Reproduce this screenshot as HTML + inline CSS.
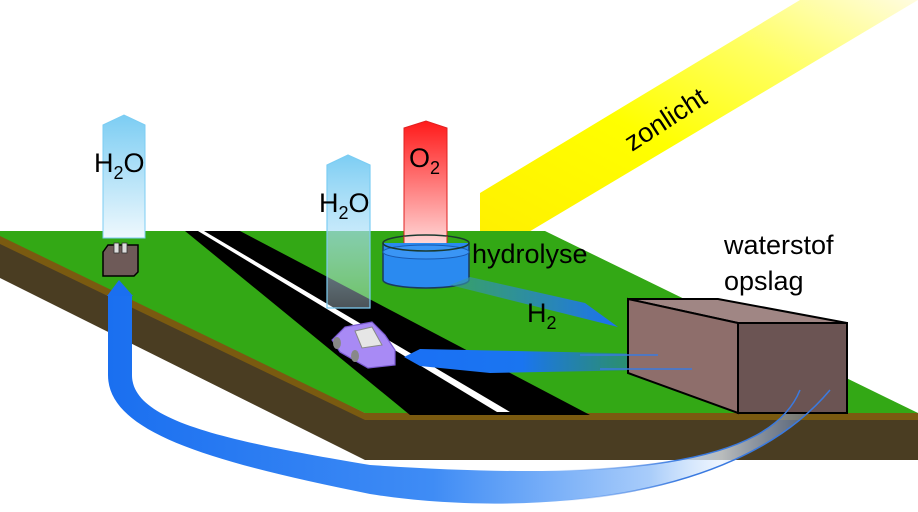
<!DOCTYPE html>
<html><head><meta charset="utf-8"><style>
html,body{margin:0;padding:0;background:#fff;}
svg{display:block;font-family:"Liberation Sans",sans-serif;}
</style></head><body>
<svg width="918" height="512" viewBox="0 0 918 512" xmlns="http://www.w3.org/2000/svg">
<defs>
<linearGradient id="sun" x1="1" y1="0" x2="0" y2="1">
<stop offset="0" stop-color="#fffce0"/><stop offset="0.3" stop-color="#ffff60"/><stop offset="0.6" stop-color="#ffff00"/><stop offset="1" stop-color="#fff000"/></linearGradient>
<linearGradient id="h2o" x1="0" y1="0" x2="0" y2="1">
<stop offset="0" stop-color="#7ccdf3"/><stop offset="1" stop-color="#eef8fd"/></linearGradient>
<linearGradient id="h2o2" x1="0" y1="0" x2="0" y2="1">
<stop offset="0" stop-color="#7ccdf3" stop-opacity="1"/><stop offset="1" stop-color="#d8f0fc" stop-opacity="0.35"/></linearGradient>
<linearGradient id="o2" x1="0" y1="0" x2="0" y2="1">
<stop offset="0" stop-color="#ff1a1a"/><stop offset="1" stop-color="#ffd8d8"/></linearGradient>
<linearGradient id="ub" x1="0" y1="0" x2="1" y2="0">
<stop offset="0" stop-color="#1a6ff0"/><stop offset="0.45" stop-color="#3f8cf5"/><stop offset="0.75" stop-color="#a8ccfa"/><stop offset="0.85" stop-color="#e8f2fe" stop-opacity="0.7"/><stop offset="1" stop-color="#4a7ad0" stop-opacity="0.4"/></linearGradient>
<linearGradient id="ln" gradientUnits="userSpaceOnUse" x1="560" y1="0" x2="680" y2="0">
<stop offset="0" stop-color="#3a7ae0" stop-opacity="0"/><stop offset="1" stop-color="#3a7ae0"/></linearGradient>
<linearGradient id="car" x1="1" y1="0" x2="0" y2="0">
<stop offset="0" stop-color="#2a7aa0" stop-opacity="0.2"/><stop offset="0.6" stop-color="#1a75f0"/><stop offset="1" stop-color="#1a70f5"/></linearGradient>
<linearGradient id="h2a" x1="0" y1="0" x2="1" y2="0">
<stop offset="0" stop-color="#3a9aa0" stop-opacity="0.6"/><stop offset="1" stop-color="#1a70f5"/></linearGradient>
</defs>
<!-- sun beam -->
<polygon points="480,193 800,0 918,0 527,233 480,233" fill="url(#sun)"/>
<text x="0" y="0" font-size="27" transform="translate(632,152) rotate(-33)">zonlicht</text>
<!-- ground -->
<polygon points="0,232 0,278 365,460 918,460 918,413 365,413" fill="#4a3d22"/>
<polygon points="0,232 0,244 365,420 918,420 918,413 365,413" fill="#7a5a10"/>
<polygon points="0,231 545,231 918,413 365,413 0,236" fill="#33a815"/>
<!-- road -->
<polygon points="185,231 240,231 590,415 410,415" fill="#000"/>
<polygon points="198,231 204,231 510,412 497,412" fill="#fff"/>
<!-- U arrow -->
<path d="M108,295 V375 C108,430 200,460 370,494 C500,515 730,510 830,390 L800,390 C770,465 620,482 370,465 C220,440 132,420 132,375 V295 Z" fill="url(#ub)"/>
<polygon points="107,296 119,280 133,296" fill="#1a6ff0"/>
<!-- H2O arrows -->
<polygon points="103,125 124,115 145,125 145,238 103,238" fill="url(#h2o)" stroke="#7ccdf3" stroke-width="1"/>
<text x="94" y="172" font-size="27">H<tspan font-size="18" dy="7">2</tspan><tspan dy="-7">O</tspan></text>
<polygon points="327,165 348,155 370,165 370,308 327,308" fill="url(#h2o2)" stroke="#7ccdf3" stroke-width="1.2"/>
<text x="319" y="212" font-size="27">H<tspan font-size="18" dy="7">2</tspan><tspan dy="-7">O</tspan></text>
<polygon points="404,128 426,121 447,128 447,245 404,245" fill="url(#o2)" stroke="#e02020" stroke-width="1"/>
<text x="409" y="167" font-size="27">O<tspan font-size="18" dy="7">2</tspan></text>
<!-- factory -->
<polygon points="103,252 108,245 138,245 138,272 134,276 103,276" fill="#6e5a58" stroke="#000" stroke-width="1.5"/>
<rect x="114" y="243" width="5" height="10" fill="#ddd" stroke="#333" stroke-width="0.8"/>
<rect x="122" y="243" width="5" height="10" fill="#ddd" stroke="#333" stroke-width="0.8"/>
<!-- cylinder -->
<path d="M383,243 V280 A43,8 0 0 0 469,280 V243" fill="#2a8af0" stroke="#1a3a60" stroke-width="1.5"/>
<ellipse cx="426" cy="252" rx="43" ry="7" fill="#3a95f5" stroke="#1a5ab0" stroke-width="1"/>
<ellipse cx="426" cy="243" rx="43" ry="8" fill="none" stroke="#1a3a30" stroke-width="1.5"/>
<line x1="404" y1="236" x2="404" y2="243" stroke="#e02020"/>
<line x1="447" y1="236" x2="447" y2="243" stroke="#e02020"/>
<text x="472" y="263" font-size="27">hydrolyse</text>
<!-- H2 arrow -->
<polygon points="470,277 585,303 618,327 510,300 450,285" fill="url(#h2a)"/>
<text x="527" y="322" font-size="27">H<tspan font-size="18" dy="7">2</tspan></text>
<!-- car arrow -->
<polygon points="404,357 420,349 658,354 700,369 490,373 420,366" fill="url(#car)"/>
<!-- car -->
<polygon points="332,340 345,327 372,322 385,335 395,350 395,365 368,368 340,352" fill="#a88af5" stroke="#7a5ad0" stroke-width="1.2"/>
<polygon points="355,331 372,327 382,345 362,348" fill="#e6e6e6" stroke="#888" stroke-width="1"/>
<ellipse cx="337" cy="343" rx="4" ry="6" fill="#888"/>
<ellipse cx="355" cy="356" rx="4" ry="6" fill="#888"/>
<!-- box -->
<polygon points="628,299 718,299 847,323 738,323" fill="#a08684" stroke="#000" stroke-width="2"/>
<polygon points="628,299 738,323 738,413 628,373" fill="#8e6e6b" stroke="#000" stroke-width="2"/>
<polygon points="738,323 847,323 847,413 738,413" fill="#6b5453" stroke="#000" stroke-width="2"/>
<line x1="580" y1="355" x2="658" y2="355" stroke="#3a7ae0" stroke-width="1.5"/>
<line x1="600" y1="369" x2="692" y2="369" stroke="#3a7ae0" stroke-width="1.5"/>
<path d="M370,494 C500,515 730,510 830,390" fill="none" stroke="url(#ln)" stroke-width="1.5"/>
<path d="M800,390 C770,465 620,482 370,465" fill="none" stroke="url(#ln)" stroke-width="1.5"/>
<text x="724" y="254" font-size="27">waterstof</text>
<text x="724" y="290" font-size="27">opslag</text>
</svg>
</body></html>
